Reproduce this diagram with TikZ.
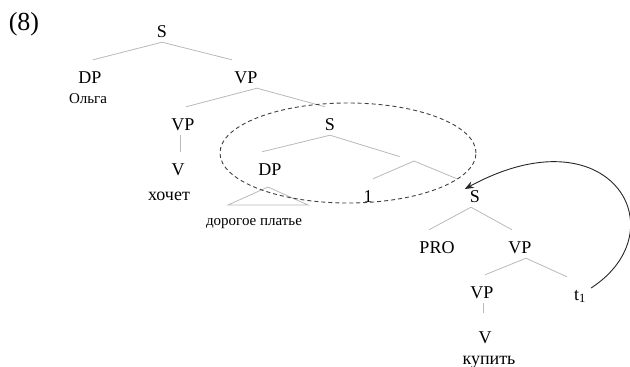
\documentclass[tikz,border=0pt]{standalone}
\usepackage{fontspec}
\setmainfont{Liberation Serif}
\usetikzlibrary{arrows.meta}

\tikzset{
  cat/.style={inner sep=0pt, anchor=base, text height=23pt, text depth=5pt,
    font=\fontsize{18}{20}\selectfont},
  word/.style={inner sep=0pt, anchor=base, font=\fontsize{18}{20}\selectfont},
  small/.style={inner sep=0pt, anchor=base, font=\fontsize{15}{17}\selectfont},
  branch/.style={draw=gray!55, line width=0.8pt},
  move/.style={draw=black!85, line width=0.9pt, -{Stealth[length=9pt,width=7pt]}}
}

\begin{document}
\begin{tikzpicture}[x=1pt,y=-1pt]
\useasboundingbox (0,0) rectangle (630,367);
%
\node[inner sep=0pt, anchor=base, font=\fontsize{26}{28}\selectfont] (ex) at (24,30) {(8)};
%
\node[cat] (S0) at (162,37) {S};
\node[cat] (DP1) at (90,83) {DP};
\node[small] (olga) at (88,103) {Ольга};
\node[cat] (VP1) at (246,83) {VP};
\node[cat] (VP2) at (183,130) {VP};
\node[cat] (V1) at (178,175) {V};
\node[word] (xochet) at (169,200) {хочет};
\node[cat] (S1) at (330,130) {S};
\node[cat] (DP2) at (270,175) {DP};
\node[small] (plate) at (254,225) {дорогое платье};
\node[cat] (one) at (368,202) {1};
\coordinate (n1) at (414,161);
\node[cat] (S2) at (475,202) {S};
\node[cat] (PRO) at (437,253) {PRO};
\node[cat] (VP3) at (520,253) {VP};
\node[cat] (VP4) at (482,298) {VP};
\node[cat] (t1) at (580,300) {t\textsubscript{1}};
\node[cat] (V2) at (485,343) {V};
\node[word] (kupit) at (489,364) {купить};
%
\draw[branch] (S0.south) -- ([xshift=3pt]DP1.north);
\draw[branch] (S0.south) -- ([xshift=-14pt]VP1.north);
\draw[branch] ([xshift=11pt]VP1.south) -- ([xshift=3pt]VP2.north);
\draw[branch] ([xshift=11pt]VP1.south) -- ([xshift=-5pt]S1.north);
\draw[branch] ([xshift=-3pt]VP2.south) -- ([xshift=2pt]V1.north);
\draw[branch] (S1.south) -- ([xshift=-8pt]DP2.north);
\draw[branch, shorten >=15pt] (S1.south) -- (n1);
\draw[branch] (n1) -- ([xshift=5pt]one.north);
\draw[branch] (n1) -- ([xshift=-18pt]S2.north);
\draw[branch] ([xshift=-4pt]S2.south) -- ([xshift=-8pt]PRO.north);
\draw[branch] ([xshift=-4pt]S2.south) -- ([xshift=-8pt]VP3.north);
\draw[branch] ([xshift=6pt]VP3.south) -- ([xshift=3pt]VP4.north);
\draw[branch] ([xshift=6pt]VP3.south) -- ([xshift=-13pt]t1.north);
\draw[branch, shorten >=7pt] ([xshift=1pt]VP4.south) -- ([xshift=-2pt]V2.north);
% roof over the DP
\draw[branch] (268,187) -- (228,205) -- (308,205) -- cycle;
%
\draw[draw=black!75, line width=0.9pt, dash pattern=on 4pt off 3pt] (348,153) ellipse [x radius=128pt, y radius=50pt];
%
\draw[move] ([xshift=5pt,yshift=3pt]t1.east) .. controls (680,230) and (610,110) .. ([xshift=-5pt,yshift=4pt]S2.west);
%
\end{tikzpicture}
\end{document}
